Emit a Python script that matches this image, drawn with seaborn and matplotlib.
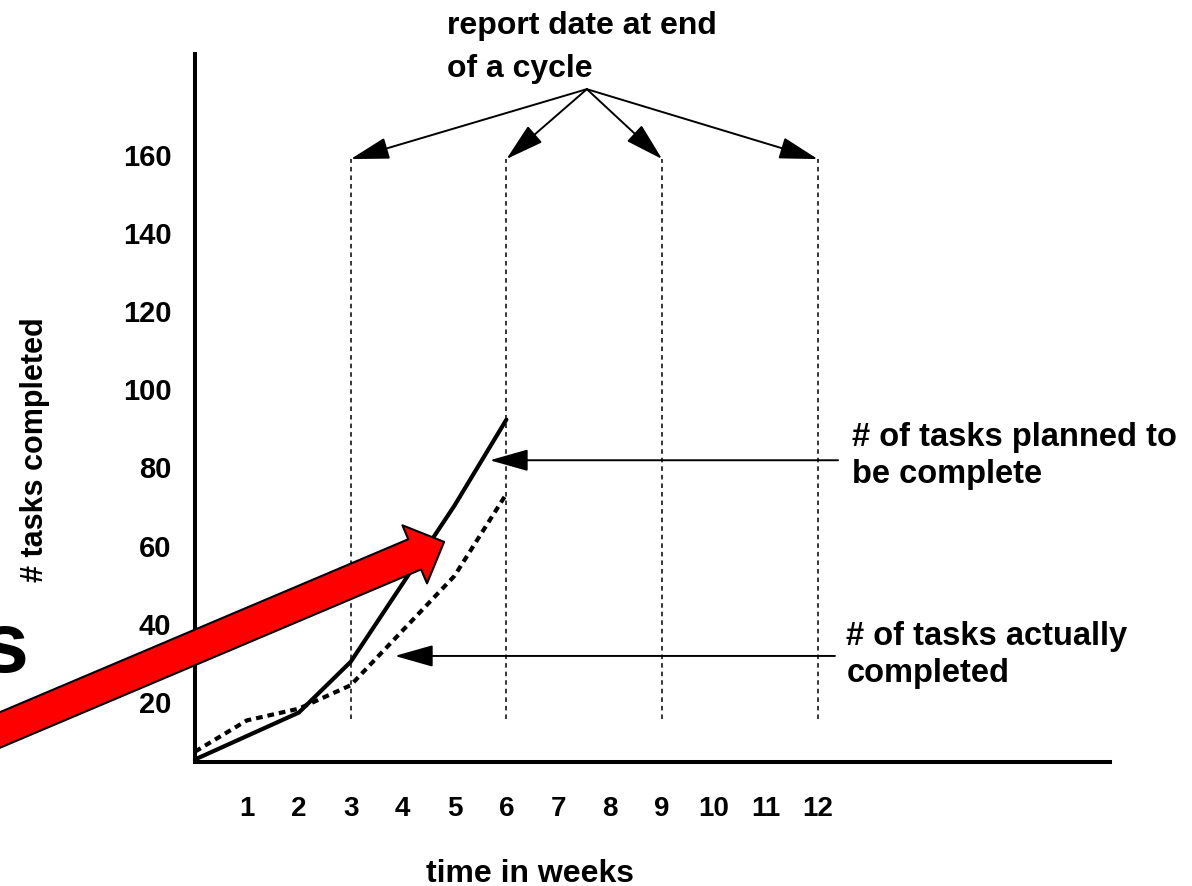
import matplotlib.pyplot as plt
import pandas as pd
import seaborn as sns

WEEKS = [0, 1, 2, 3, 4, 5, 6]
PLANNED = [5, 11, 17, 30, 50, 70, 92]
ACTUAL = [7, 15, 18, 24, 38, 52, 73]
REPORT_WEEKS = [3, 6, 9, 12]
X_TICKS = list(range(1, 13))
Y_TICKS = [20, 40, 60, 80, 100, 120, 140, 160]


def main() -> None:
    sns.set_theme(style="white")
    plt.rcParams["font.family"] = ["Liberation Sans", "DejaVu Sans"]
    plt.rcParams["font.weight"] = "bold"
    for key in ["text.color", "axes.labelcolor", "xtick.color", "ytick.color"]:
        plt.rcParams[key] = "black"

    df = pd.DataFrame(
        {
            "week": WEEKS * 2,
            "tasks": PLANNED + ACTUAL,
            "series": ["planned"] * len(WEEKS) + ["actual"] * len(WEEKS),
        }
    )

    fig = plt.figure(figsize=(11.92, 8.87), dpi=100)
    ax = fig.add_axes([195 / 1192, 124 / 887, 915 / 1192, 708 / 887])

    sns.lineplot(
        data=df, x="week", y="tasks", hue="series", style="series",
        palette={"planned": "black", "actual": "black"},
        dashes={"planned": "", "actual": (1.6, 1.2)},
        linewidth=3.0, legend=False, ax=ax,
    )

    # report dates at the end of each cycle
    ax.vlines(REPORT_WEEKS, 15.4, 158.7, colors="black", linewidth=1.1,
              linestyles=(0, (3.0, 2.6)))

    ax.set_xlim(0, 17.63)
    ax.set_ylim(4.35, 185.6)
    ax.set_xticks(X_TICKS)
    ax.set_yticks(Y_TICKS)
    ax.tick_params(axis="x", length=0, pad=24, labelsize=20)
    ax.tick_params(axis="y", length=0, pad=17, labelsize=21)
    for lbl in ax.get_xticklabels() + ax.get_yticklabels():
        lbl.set_fontweight("bold")

    for side in ["top", "right"]:
        ax.spines[side].set_visible(False)
    for side in ["left", "bottom"]:
        ax.spines[side].set_linewidth(2.9)
        ax.spines[side].set_color("black")

    ax.set_xlabel("time in weeks", fontsize=23, fontweight="bold")
    ax.xaxis.set_label_coords(0.366, -0.135)
    ax.set_ylabel("# tasks completed", fontsize=22, fontweight="bold")
    ax.yaxis.set_label_coords(-0.158, 0.442)

    head = dict(arrowstyle="-|>,head_length=1.2,head_width=0.34", color="black",
                lw=1.4, mutation_scale=20, shrinkA=0, shrinkB=0)

    ax.text(4.86, 187.5, "report date at end\nof a cycle", fontsize=23,
            fontweight="bold", ha="left", va="center", linespacing=1.55)
    for wk in REPORT_WEEKS:
        ax.annotate("", xy=(wk, 158.7), xytext=(7.55, 176.6),
                    arrowprops=head, annotation_clip=False)

    ax.annotate("", xy=(5.68, 81.6), xytext=(12.39, 81.6), arrowprops=head)
    ax.text(12.65, 83.0, "# of tasks planned to\nbe complete", fontsize=23.5,
            fontweight="bold", ha="left", va="center", linespacing=1.25)

    ax.annotate("", xy=(3.85, 31.5), xytext=(12.33, 31.5), arrowprops=head)
    ax.text(12.55, 32.0, "# of tasks actually\ncompleted", fontsize=23.5,
            fontweight="bold", ha="left", va="center", linespacing=1.25)

    # big red pointer coming in from the left edge
    red = ax.annotate(
        "", xy=(4.8, 60.7), xytext=(-4.3, 9.5), annotation_clip=False,
        arrowprops=dict(arrowstyle="simple,head_length=1.15,head_width=2.27,tail_width=1.18",
                        fc="#ff0000", ec="black", lw=1.5, mutation_scale=20,
                        shrinkA=0, shrinkB=0),
    )
    red.set_zorder(10)
    red.arrow_patch.set_clip_on(False)

    fig.text(29 / 1192, (887 - 650) / 887, "s", fontsize=62, fontweight="bold",
             ha="right", va="center")

    fig.savefig("out.png", dpi=100)
    plt.close(fig)


if __name__ == "__main__":
    main()
